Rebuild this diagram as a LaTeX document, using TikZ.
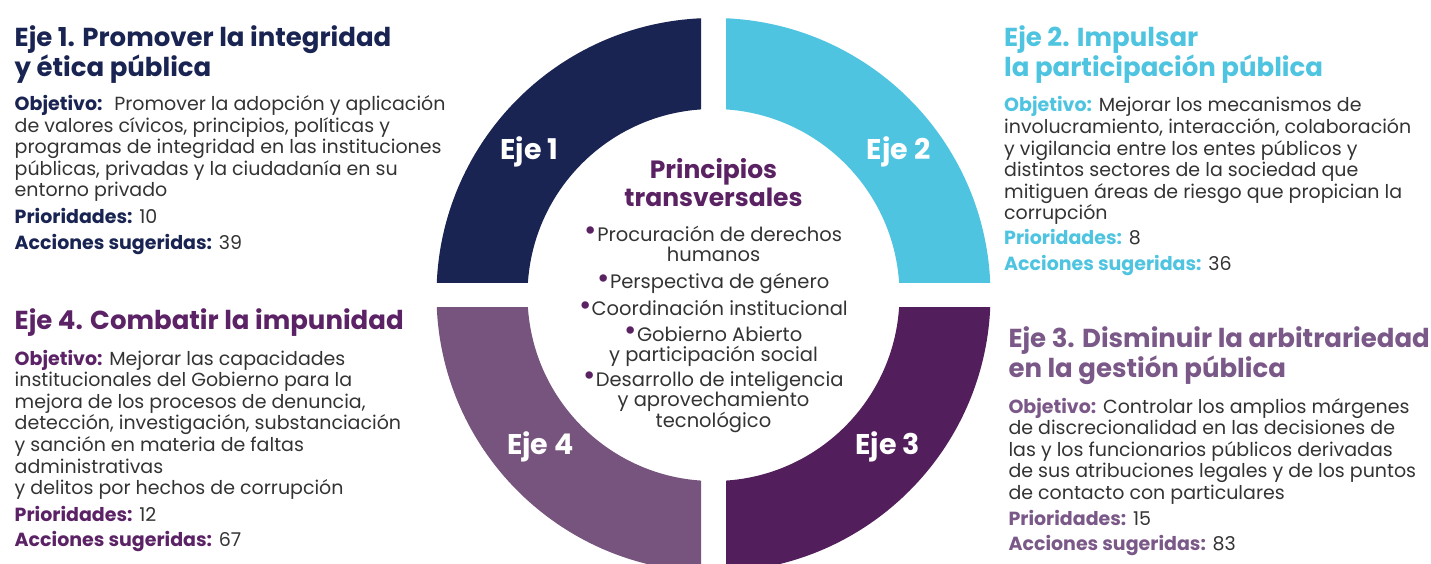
\documentclass[tikz,border=0pt]{standalone}
\usepackage{fontspec}
\setmainfont{Poppins}
\usepackage{xcolor}
\usepackage{tikz}
\usetikzlibrary{positioning}

\definecolor{ejeAcol}{RGB}{25,36,82}
\definecolor{ejeBcol}{RGB}{78,196,224}
\definecolor{ejeCcol}{RGB}{82,30,92}
\definecolor{ejeDcol}{RGB}{118,84,125}
\definecolor{tit3col}{RGB}{122,88,136}
\definecolor{tit4col}{RGB}{92,34,102}
\definecolor{princol}{RGB}{90,33,99}
\definecolor{textgris}{RGB}{51,51,51}

\newcommand\etiq[2]{{\bfseries\color{#1}#2}}
\newcommand\blt{{\color{princol}\raisebox{0.5pt}{\fontsize{30}{30}\selectfont\textbullet}}}

\begin{document}
\begin{tikzpicture}[x=1pt, y=1pt,
  ejelbl/.style={
    font=\fontsize{28.5}{30}\selectfont\bfseries,
    text=white,
    anchor=base,
    inner sep=0pt
  },
  titulo/.style={
    font=\fontsize{26}{30}\selectfont\bfseries,
    align=left,
    anchor=base west,
    inner sep=0pt
  },
  cuerpo/.style={
    font=\fontsize{19}{21.6}\selectfont,
    text=textgris,
    align=left,
    anchor=base west,
    inner sep=0pt
  },
  centro/.style={
    font=\fontsize{19.5}{20.5}\selectfont,
    text=textgris,
    align=center,
    anchor=base,
    inner sep=0pt
  }
]

\useasboundingbox (0,0) rectangle (1431,563);
\clip (0,0) rectangle (1431,563);

% anillo de cuatro ejes
\foreach \sx/\sy/\col in {-1/1/ejeAcol, 1/1/ejeBcol, 1/-1/ejeCcol, -1/-1/ejeDcol}{
  \begin{scope}[shift={(713.5,268)}]
    \clip (\sx*12.5,\sy*12.5) rectangle (\sx*300,\sy*300);
    \fill[\col, even odd rule] (0,0) circle (277) (0,0) circle (186);
  \end{scope}
}

\node[ejelbl] (lbl1) at (529.5,403.5) {Eje 1};
\node[ejelbl] (lbl2) at (898.5,403.5) {Eje 2};
\node[ejelbl] (lbl3) at (887.7,108.4) {Eje 3};
\node[ejelbl] (lbl4) at (540.5,108.4) {Eje 4};

% principios transversales (base = ultima linea)
\node[centro, font=\fontsize{25}{28.4}\selectfont\bfseries, text=princol] (prin) at (713.5,356.3)
  {Principios\\transversales};
\node[centro] (lista) at (713.5,135.7)
  {\blt Procuración de derechos\\humanos\\[6.5pt]
   \blt Perspectiva de género\\[5.5pt]
   \blt Coordinación institucional\\[5pt]
   \blt Gobierno Abierto\\y participación social\\[4pt]
   \blt Desarrollo de inteligencia\\y aprovechamiento\\tecnológico};

% Eje 1
\node[titulo, text=ejeAcol] (tit1) at (14.5,486.3)
  {Eje 1. Promover la integridad\\y ética pública};
\node[cuerpo] (txt1) at (14.5,313.7)
  {\etiq{ejeAcol}{Objetivo:}~ Promover la adopción y aplicación\\
   de valores cívicos, principios, políticas y\\
   programas de integridad en las instituciones\\
   públicas, privadas y la ciudadanía en su\\
   entorno privado\\[5.5pt]
   \etiq{ejeAcol}{Prioridades:} 10\\[3.7pt]
   \etiq{ejeAcol}{Acciones sugeridas:} 39};

% Eje 2
\node[titulo, text=ejeBcol] (tit2) at (1004,486.3)
  {Eje 2. Impulsar\\la participación pública};
\node[cuerpo] (txt2) at (1004,293)
  {\etiq{ejeBcol}{Objetivo:} Mejorar los mecanismos de\\
   involucramiento, interacción, colaboración\\
   y vigilancia entre los entes públicos y\\
   distintos sectores de la sociedad que\\
   mitiguen áreas de riesgo que propician la\\
   corrupción\\[3.4pt]
   \etiq{ejeBcol}{Prioridades:} 8\\[3.4pt]
   \etiq{ejeBcol}{Acciones sugeridas:} 36};

% Eje 3
\node[titulo, text=tit3col] (tit3) at (1008.3,185.7)
  {Eje 3. Disminuir la arbitrariedad\\en la gestión pública};
\node[cuerpo] (txt3) at (1008.3,13)
  {\etiq{tit3col}{Objetivo:} Controlar los amplios márgenes\\
   de discrecionalidad en las decisiones de\\
   las y los funcionarios públicos derivadas\\
   de sus atribuciones legales y de los puntos\\
   de contacto con particulares\\[4pt]
   \etiq{tit3col}{Prioridades:} 15\\[3.4pt]
   \etiq{tit3col}{Acciones sugeridas:} 83};

% Eje 4
\node[titulo, text=tit4col] (tit4) at (14.5,233.7)
  {Eje 4. Combatir la impunidad};
\node[cuerpo] (txt4) at (14.5,16.3)
  {\etiq{tit4col}{Objetivo:} Mejorar las capacidades\\
   institucionales del Gobierno para la\\
   mejora de los procesos de denuncia,\\
   detección, investigación, substanciación\\
   y sanción en materia de faltas\\
   administrativas\\
   y delitos por hechos de corrupción\\[5.4pt]
   \etiq{tit4col}{Prioridades:} 12\\[3.4pt]
   \etiq{tit4col}{Acciones sugeridas:} 67};

\end{tikzpicture}
\end{document}
